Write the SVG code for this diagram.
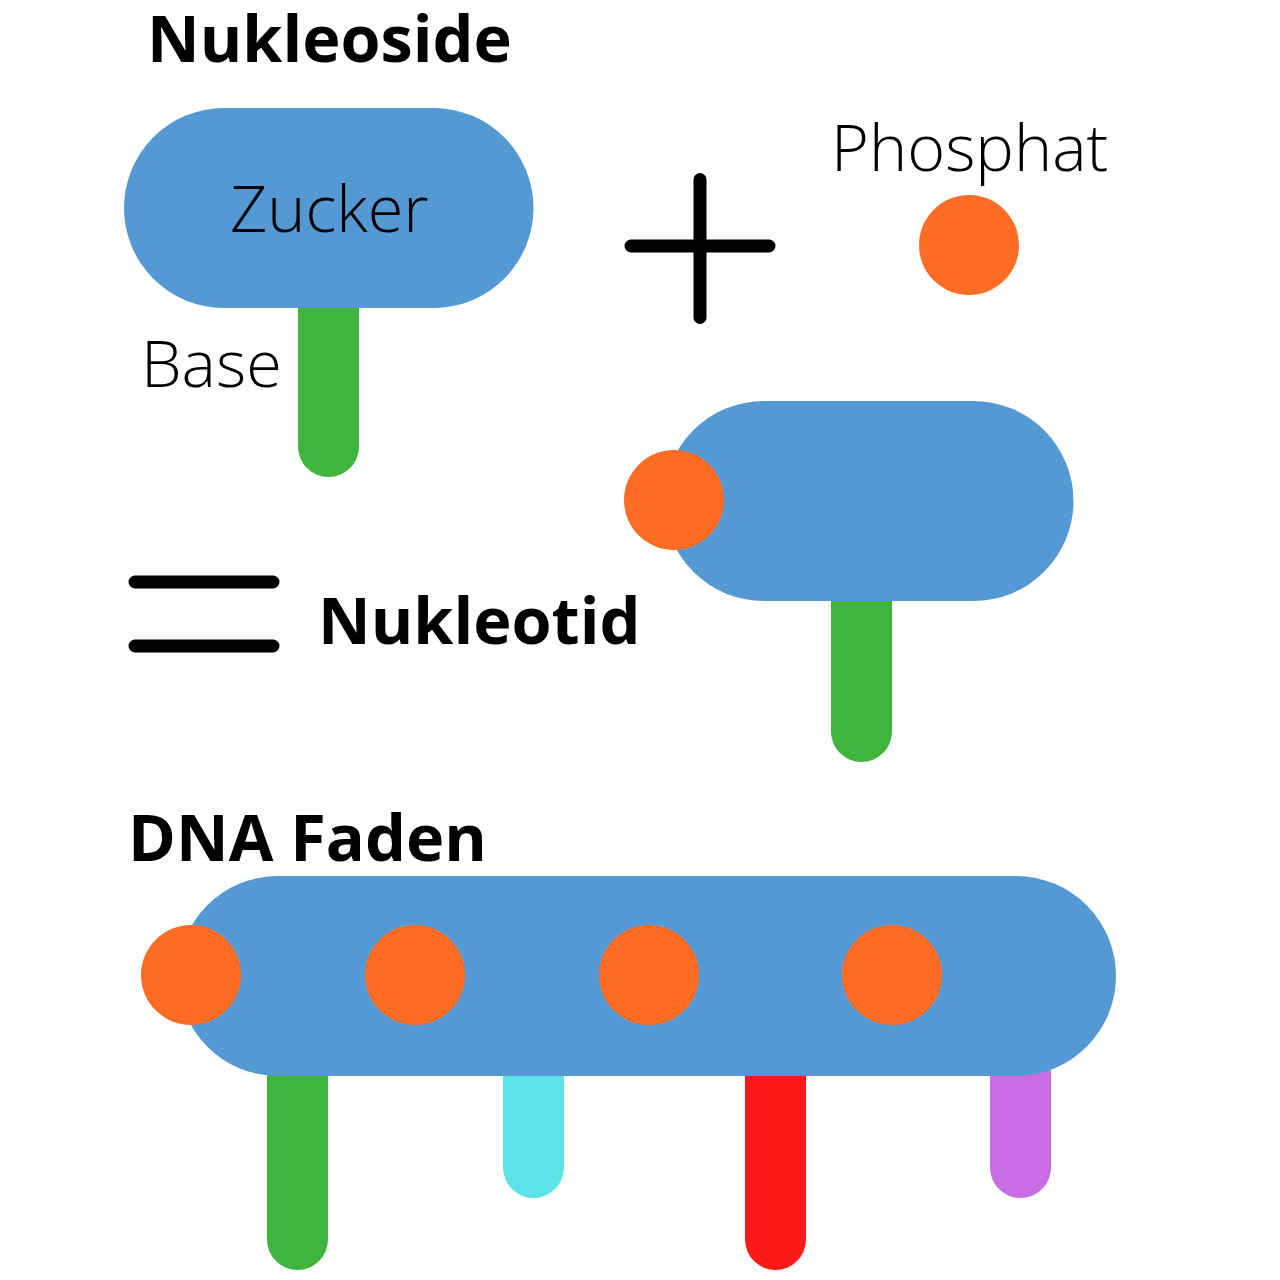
<svg xmlns="http://www.w3.org/2000/svg" width="1280" height="1280" viewBox="0 0 1280 1280">
<style>
.s{fill:#5499d3}.p{fill:#ff6d24}.g{fill:#3fb53d}
.h{font-family:"Open Sans","Noto Sans",sans-serif;font-weight:700;font-size:64.800px;fill:#000}
.l{font-family:"Open Sans","Noto Sans",sans-serif;font-weight:300;font-size:64.800px;fill:#000}
.b{stroke:#000;stroke-width:13;stroke-linecap:round;fill:none}
</style>
<rect width="1280" height="1280" fill="#fff"/>
<g id="nukleoside">
<rect x="298" y="220" width="61" height="257" rx="30.500" class="g"/>
<rect x="124" y="108" width="409.500" height="200" rx="100" class="s"/>
<text x="147" y="62" class="h">Nukleoside</text>
<text x="230" y="232" class="l">Zucker</text>
<text x="141" y="387" class="l">Base</text>
</g>
<g id="plus"><path class="b" d="M631 246H769M700 179.500V317.500"/></g>
<g id="phosphat">
<text x="831" y="171" class="l">Phosphat</text>
<circle cx="969" cy="245" r="50" class="p"/>
</g>
<g id="equals"><path class="b" d="M135 582H273M135 646H273"/></g>
<g id="nukleotid">
<text x="318" y="644" class="h">Nukleotid</text>
<rect x="831" y="500" width="61" height="262" rx="30.500" class="g"/>
<rect x="664" y="401" width="409.500" height="200" rx="100" class="s"/>
<circle cx="674" cy="500" r="50" class="p"/>
</g>
<g id="dna-faden">
<text x="128" y="861" class="h">DNA Faden</text>
<rect x="267" y="980" width="61" height="290" rx="30.500" class="g"/>
<rect x="503" y="980" width="61" height="218" rx="30.500" fill="#5ce3e8"/>
<rect x="745" y="980" width="61" height="290" rx="30.500" fill="#ff1a1a"/>
<rect x="990" y="980" width="61" height="218" rx="30.500" fill="#c86de3"/>
<rect x="178" y="876" width="938" height="200" rx="100" class="s"/>
<circle cx="191" cy="975" r="50" class="p"/>
<circle cx="415" cy="975" r="50" class="p"/>
<circle cx="649" cy="975" r="50" class="p"/>
<circle cx="892" cy="975" r="50" class="p"/>
</g>
<g id="connectors"></g>
</svg>
